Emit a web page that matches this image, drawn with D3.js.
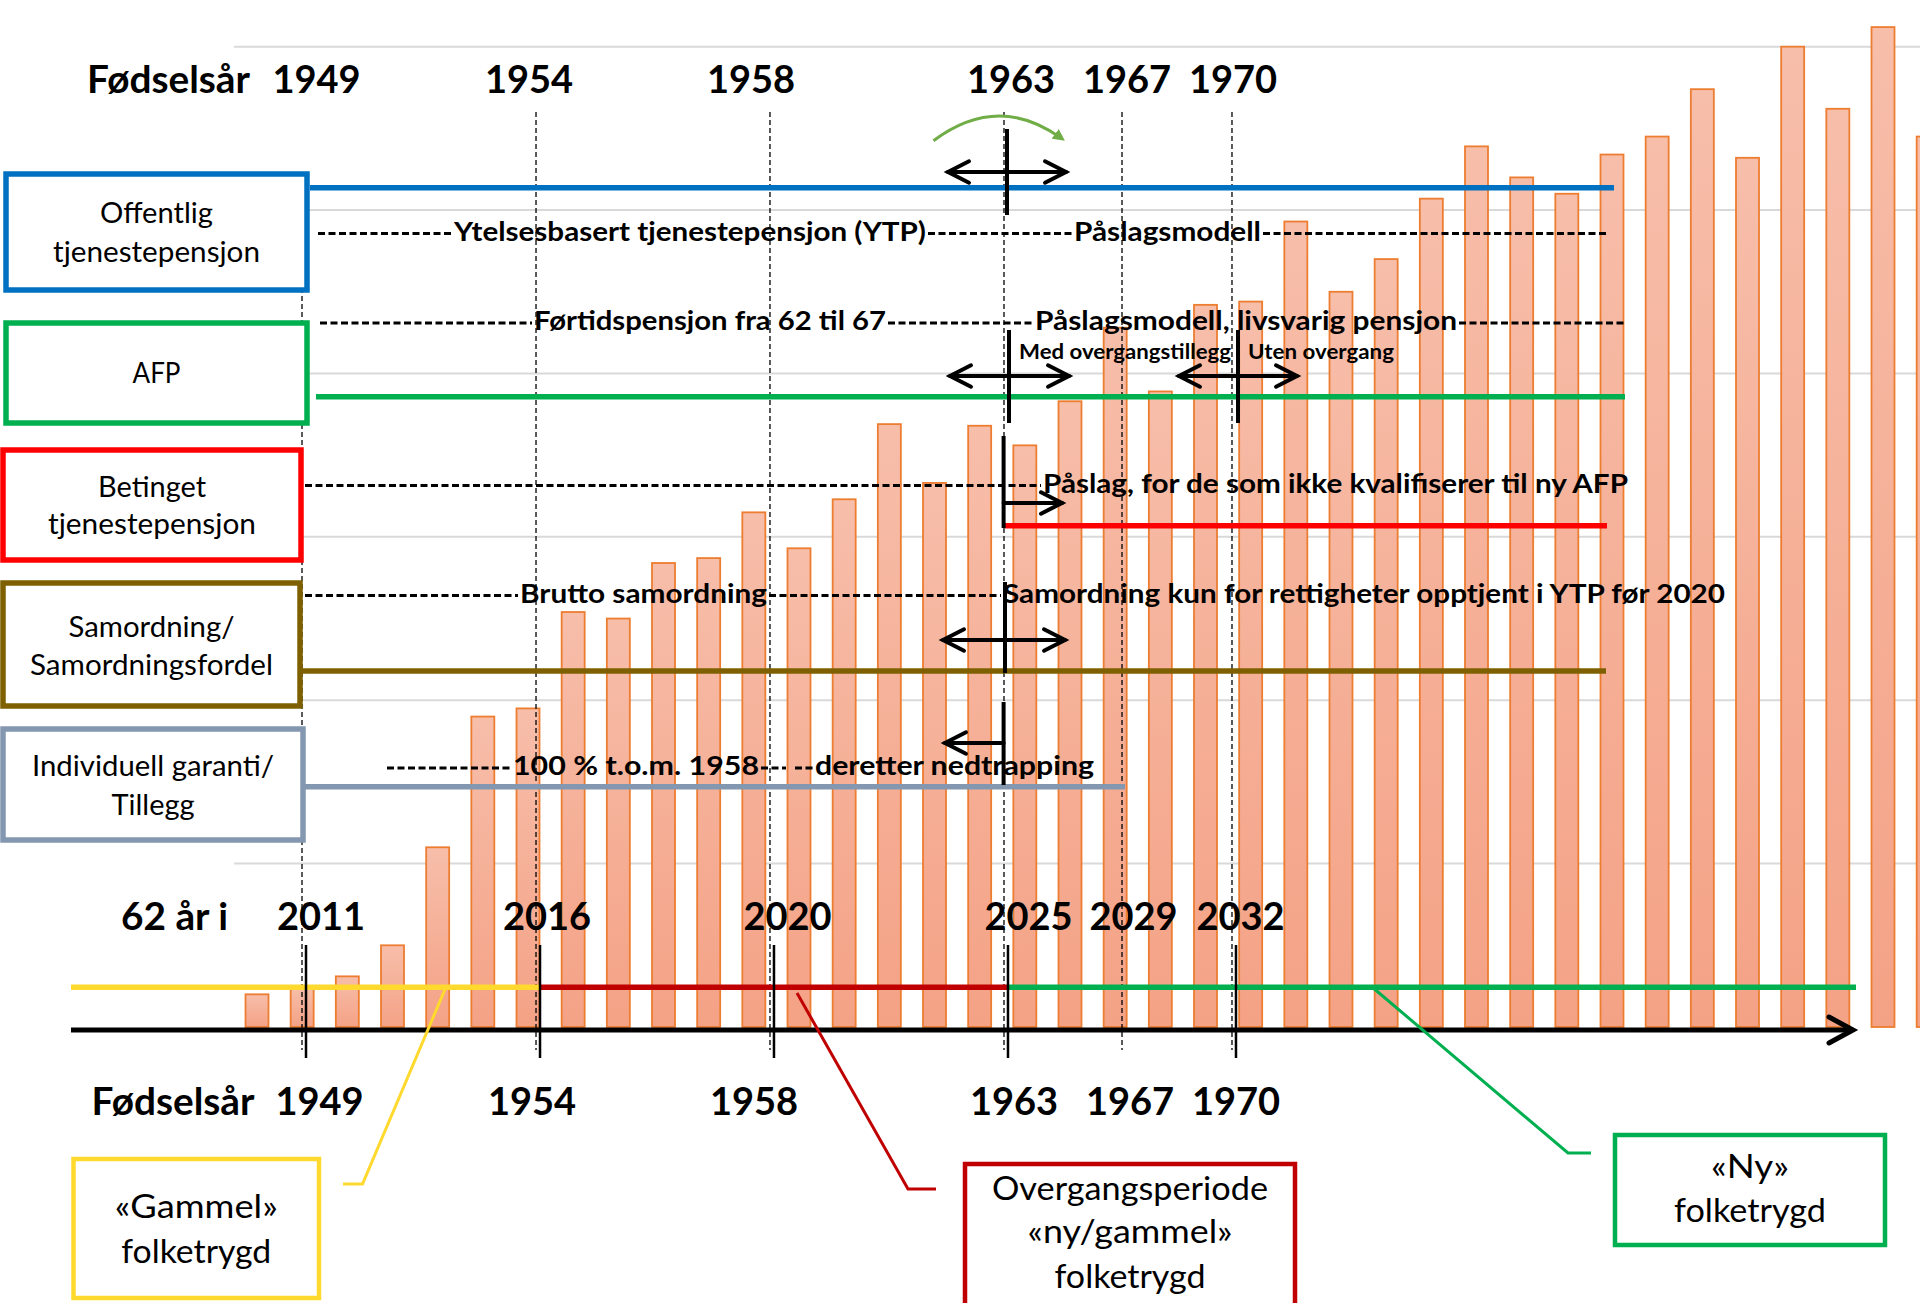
<!DOCTYPE html>
<html>
<head>
<meta charset="utf-8">
<script src="https://cdn.jsdelivr.net/npm/d3@7"></script>
<style>
  body { margin: 0; background: #fff; }
  svg { display: block; font-family: Lato, "Open Sans", sans-serif; }
</style>
</head>
<body>
<div id="chart"></div>
<script>
// bar heights (schematic, one bar per year at 62)
const barValues = [2.0, 2.4, 3.1, 5.0, 11.0, 19.0, 19.5, 25.4, 25.0, 28.4, 28.7, 31.5, 29.3,
  32.3, 36.9, 33.3, 36.8, 35.6, 38.3, 42.8, 38.9, 44.2, 44.4, 49.3, 45.0, 47.0, 50.7, 53.9,
  52.0, 51.0, 53.4, 54.5, 57.4, 53.2, 60.0, 56.2, 61.2, 54.5];
const gridValues = [10, 20, 30, 40, 50, 60];

// timeline marks, in bar-slot units
const birthYears = ["1949", "1954", "1958", "1963", "1967", "1970"];
const yearsAt62 = ["2011", "2016", "2020", "2025", "2029", "2032"];
const markSlots = [1.085, 6.266, 11.446, 16.627, 19.24, 21.675];
const solidTick = [true, true, true, true, false, true];
const birthLabelSlots = [1.317, 6.022, 10.937, 16.694, 19.262, 21.609];
const age62LabelSlots = [1.417, 6.421, 11.745, 17.081, 19.406, 21.775];

// left hand boxes
const schemeNames = [["Offentlig", "tjenestepensjon"], ["AFP"], ["Betinget", "tjenestepensjon"],
  ["Samordning/", "Samordningsfordel"], ["Individuell garanti/", "Tillegg"]];
const schemeColors = ["#0070C0", "#00B050", "#FF0000", "#7F6000", "#8497B0"];

// dashed rows text
const rowTexts = [
  ["Ytelsesbasert tjenestepensjon (YTP)", "Påslagsmodell"],
  ["Førtidspensjon fra 62 til 67", "Påslagsmodell, livsvarig pensjon"],
  ["Påslag, for de som ikke kvalifiserer til ny AFP"],
  ["Brutto samordning", "Samordning kun for rettigheter opptjent i YTP før 2020"],
  ["100 %  t.o.m. 1958", "deretter nedtrapping"]
];

// bottom folketrygd periods
const periodNames = [["«Gammel»", "folketrygd"], ["Overgangsperiode", "«ny/gammel»", "folketrygd"], ["«Ny»", "folketrygd"]];
const periodColors = ["#FFD92E", "#C00000", "#00B050"];

const W = 1920, H = 1303;
const svg = d3.select("#chart").append("svg").attr("width", W).attr("height", H);

const x = d3.scaleLinear().domain([0, 36]).range([257, 1883]);
const y = d3.scaleLinear().domain([0, 60]).range([1027, 46.7]);
const barW = 23;

const defs = svg.append("defs");
const grad = defs.append("linearGradient").attr("id", "barFill")
    .attr("x1", 0).attr("x2", 0).attr("y1", 0).attr("y2", 1);
grad.append("stop").attr("offset", "0%").attr("stop-color", "#F7BEAA");
grad.append("stop").attr("offset", "100%").attr("stop-color", "#F4A286");

defs.append("marker").attr("id", "greenHead")
    .attr("viewBox", "0 0 10 10").attr("refX", 6).attr("refY", 5)
    .attr("markerWidth", 4).attr("markerHeight", 4).attr("orient", "auto")
  .append("path").attr("d", "M0,0 L10,5 L0,10 z").attr("fill", "#70AD47");

// gridlines
svg.append("g").selectAll("line").data(gridValues).join("line")
    .attr("x1", 234).attr("x2", W)
    .attr("y1", d => y(d)).attr("y2", d => y(d))
    .attr("stroke", "#D9D9D9").attr("stroke-width", 2);

// bars
svg.append("g").selectAll("rect").data(barValues).join("rect")
    .attr("x", (d, i) => x(i) - barW / 2)
    .attr("y", d => y(d))
    .attr("width", barW)
    .attr("height", d => y(0) - y(d))
    .attr("fill", "url(#barFill)")
    .attr("stroke", "#ED7D31")
    .attr("stroke-width", 1.8);

// vertical dashed guide lines
svg.append("g").selectAll("line").data(markSlots).join("line")
    .attr("x1", d => x(d) - 4).attr("x2", d => x(d) - 4)
    .attr("y1", (d, i) => i === 0 ? 176 : 112)
    .attr("y2", 1050)
    .attr("stroke", "#000").attr("stroke-width", 1.3)
    .attr("stroke-dasharray", "5,3");

// coloured scheme lines
const lineY = [187.7, 396.7, 525.7, 671, 786.7];
const lineX = [[310, 1614], [316, 1625], [1005, 1607], [298, 1606], [305, 1125]];
svg.append("g").selectAll("line").data(schemeColors).join("line")
    .attr("x1", (d, i) => lineX[i][0]).attr("x2", (d, i) => lineX[i][1])
    .attr("y1", (d, i) => lineY[i]).attr("y2", (d, i) => lineY[i])
    .attr("stroke", d => d).attr("stroke-width", 5.5);

// left boxes
const boxRects = [[6, 174, 301, 116], [6, 323, 301, 100], [3, 450, 298, 110], [3, 583, 297, 123], [3, 729, 300, 111]];
const boxLines = [[223, 262], [383], [497, 534], [637, 675], [776, 815]];
const boxWidths = [[113, 207], [48], [108, 208], [166, 243], [242, 83]];
const boxes = svg.append("g").selectAll("g").data(schemeNames).join("g");
boxes.append("rect")
    .attr("x", (d, i) => boxRects[i][0]).attr("y", (d, i) => boxRects[i][1])
    .attr("width", (d, i) => boxRects[i][2]).attr("height", (d, i) => boxRects[i][3])
    .attr("fill", "#fff").attr("stroke", (d, i) => schemeColors[i]).attr("stroke-width", 5.5);
boxes.each(function(d, i) {
  d3.select(this).selectAll("text").data(d).join("text")
      .attr("x", boxRects[i][0] + boxRects[i][2] / 2)
      .attr("y", (s, j) => boxLines[i][j])
      .attr("text-anchor", "middle")
      .attr("font-size", 29.5)
      .attr("textLength", (s, j) => boxWidths[i][j])
      .attr("lengthAdjust", "spacingAndGlyphs")
      .text(s => s);
});

// dashed text rows
const rowBase = [240.5, 330, 492.5, 602.5, 775];
const rowTextX = [[[454, 926], [1074, 1261]], [[534, 886], [1035, 1457]], [[1043, 1628]],
  [[520, 767], [1003, 1725]], [[513, 759], [815, 1094]]];
const rowDashes = [[[318, 452], [928, 1072], [1263, 1609]], [[320, 532], [888, 1033], [1459, 1624]],
  [[305, 1041]], [[305, 518], [769, 1001]], [[387, 511], [761, 786], [795, 813]]];
const rows = svg.append("g").selectAll("g").data(rowTexts).join("g");
rows.each(function(d, i) {
  const g = d3.select(this);
  g.selectAll("line").data(rowDashes[i]).join("line")
      .attr("x1", s => s[0]).attr("x2", s => s[1])
      .attr("y1", rowBase[i] - 7).attr("y2", rowBase[i] - 7)
      .attr("stroke", "#000").attr("stroke-width", 3)
      .attr("stroke-dasharray", "7,3.5");
  g.selectAll("text").data(d).join("text")
      .attr("x", (s, j) => rowTextX[i][j][0])
      .attr("y", rowBase[i])
      .attr("font-size", 27).attr("font-weight", "bold")
      .attr("textLength", (s, j) => rowTextX[i][j][1] - rowTextX[i][j][0])
      .attr("lengthAdjust", "spacingAndGlyphs")
      .text(s => s);
});

// AFP sub labels
svg.append("g").selectAll("text").data(["Med overgangstillegg", "Uten overgang"]).join("text")
    .attr("x", (d, i) => [1019, 1248][i]).attr("y", 359)
    .attr("font-size", 20).attr("font-weight", "bold")
    .attr("textLength", (d, i) => [212, 146][i]).attr("lengthAdjust", "spacingAndGlyphs")
    .text(d => d);

// arrows
const arrows = svg.append("g").attr("stroke", "#000").attr("fill", "none")
    .attr("stroke-width", 4).attr("stroke-linecap", "round");
function head(xt, yt, dir) {
  arrows.append("polyline")
      .attr("points", `${xt - dir * 21},${yt - 10.7} ${xt},${yt} ${xt - dir * 21},${yt + 10.7}`);
}
function hArrow(x1, x2, yy, both) {
  arrows.append("line").attr("x1", x1).attr("x2", x2).attr("y1", yy).attr("y2", yy);
  head(x2, yy, x2 > x1 ? 1 : -1);
  if (both) head(x1, yy, x2 > x1 ? -1 : 1);
}
function vBar(xx, y1, y2) {
  arrows.append("line").attr("x1", xx).attr("x2", xx).attr("y1", y1).attr("y2", y2)
      .attr("stroke-width", 4).attr("stroke-linecap", "butt");
}
hArrow(948, 1066, 172, true); vBar(1007, 129, 215);
hArrow(950, 1069, 376, true); vBar(1009, 330, 423);
hArrow(1179, 1297, 376, true); vBar(1238, 330, 423);
vBar(1003.6, 436, 528); hArrow(1003.6, 1062, 503, false);
hArrow(943, 1065, 640, true); vBar(1005, 582, 673);
vBar(1003.6, 702, 785); hArrow(1003.6, 945, 743, false);

svg.append("path")
    .attr("d", "M933.5,140.7 Q998,92.7 1061,138")
    .attr("fill", "none").attr("stroke", "#70AD47").attr("stroke-width", 3)
    .attr("marker-end", "url(#greenHead)");

// timeline labels
const labels = svg.append("g").attr("font-weight", "bold").attr("font-size", 38);
labels.append("text").attr("x", 87).attr("y", 92.7).text("Fødselsår")
    .attr("textLength", 163).attr("lengthAdjust", "spacingAndGlyphs");
labels.append("text").attr("x", 91.5).attr("y", 1115).text("Fødselsår")
    .attr("textLength", 163).attr("lengthAdjust", "spacingAndGlyphs");
labels.append("text").attr("x", 121).attr("y", 930).text("62 år i")
    .attr("textLength", 107).attr("lengthAdjust", "spacingAndGlyphs");
labels.append("g").selectAll("text").data(birthYears).join("text")
    .attr("x", (d, i) => x(birthLabelSlots[i])).attr("y", 92.7)
    .attr("text-anchor", "middle").text(d => d);
labels.append("g").selectAll("text").data(birthYears).join("text")
    .attr("x", (d, i) => x(birthLabelSlots[i]) + 3).attr("y", 1115)
    .attr("text-anchor", "middle").text(d => d);
labels.append("g").selectAll("text").data(yearsAt62).join("text")
    .attr("x", (d, i) => x(age62LabelSlots[i])).attr("y", 930)
    .attr("text-anchor", "middle").text(d => d);

// bottom folketrygd period lines
const periodX = [[71, 540], [540, 1008.5], [1008.5, 1856]];
svg.append("g").selectAll("line").data(periodColors).join("line")
    .attr("x1", (d, i) => periodX[i][0]).attr("x2", (d, i) => periodX[i][1])
    .attr("y1", 987.3).attr("y2", 987.3)
    .attr("stroke", d => d).attr("stroke-width", 5.5);

// main axis with arrow
svg.append("line").attr("x1", 71).attr("x2", 1851).attr("y1", 1030).attr("y2", 1030)
    .attr("stroke", "#000").attr("stroke-width", 5);
svg.append("polyline").attr("points", "1829,1017 1853,1030 1829,1043")
    .attr("fill", "none").attr("stroke", "#000").attr("stroke-width", 5)
    .attr("stroke-linecap", "round");

// ticks on axis
svg.append("g").selectAll("line").data(markSlots.filter((d, i) => solidTick[i])).join("line")
    .attr("x1", d => x(d)).attr("x2", d => x(d))
    .attr("y1", 945).attr("y2", 1058)
    .attr("stroke", "#000").attr("stroke-width", 2.5);

// callouts
const calloutPts = [[[446, 987], [362.5, 1184], [343, 1184]],
  [[797, 993], [908, 1189], [936, 1189]],
  [[1372, 987], [1568, 1153], [1591, 1153]]];
svg.append("g").selectAll("polyline").data(periodColors).join("polyline")
    .attr("points", (d, i) => calloutPts[i].map(p => p.join(",")).join(" "))
    .attr("fill", "none").attr("stroke", d => d).attr("stroke-width", 3);

const pRects = [[73.5, 1159, 245.5, 139], [965, 1164, 330, 160], [1615, 1135, 270, 110]];
const pLines = [[1218, 1263], [1200, 1243, 1288], [1178, 1222]];
const pWidths = [[163, 150], [276, 205, 151], [78, 152]];
const periods = svg.append("g").selectAll("g").data(periodNames).join("g");
periods.append("rect")
    .attr("x", (d, i) => pRects[i][0]).attr("y", (d, i) => pRects[i][1])
    .attr("width", (d, i) => pRects[i][2]).attr("height", (d, i) => pRects[i][3])
    .attr("fill", "#fff").attr("stroke", (d, i) => periodColors[i]).attr("stroke-width", 4.5);
periods.each(function(d, i) {
  d3.select(this).selectAll("text").data(d).join("text")
      .attr("x", pRects[i][0] + pRects[i][2] / 2)
      .attr("y", (s, j) => pLines[i][j])
      .attr("text-anchor", "middle")
      .attr("font-size", 33)
      .attr("textLength", (s, j) => pWidths[i][j])
      .attr("lengthAdjust", "spacingAndGlyphs")
      .text(s => s);
});
</script>
</body>
</html>
